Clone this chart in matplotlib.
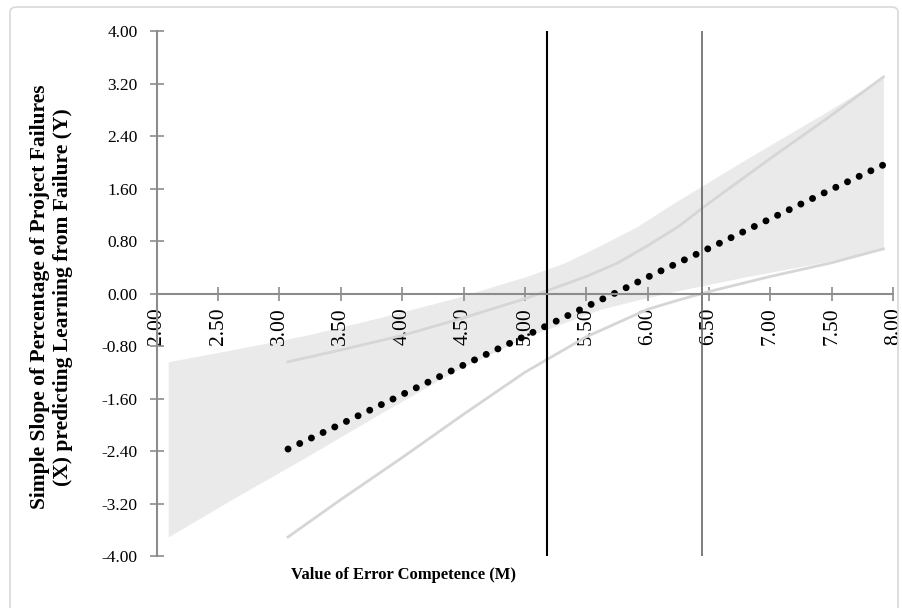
import matplotlib
matplotlib.use("Agg")
import matplotlib.pyplot as plt
from matplotlib.patches import FancyBboxPatch
import numpy as np

# moderator values (Error Competence) and the values
m_values = [3.07, 3.50, 4.00, 4.50, 5.00, 5.50, 5.75, 6.00, 6.25, 6.50, 7.00, 7.50, 7.92]
simple_slope = [-2.37, -1.99, -1.54, -1.09, -0.65, -0.20, 0.02, 0.25, 0.47, 0.69, 1.14, 1.59, 1.96]
ci_upper = [-1.04, -0.86, -0.64, -0.37, -0.08, 0.26, 0.46, 0.73, 1.02, 1.38, 2.06, 2.72, 3.30]
ci_lower = [-3.71, -3.14, -2.50, -1.84, -1.20, -0.66, -0.45, -0.24, -0.10, 0.03, 0.26, 0.47, 0.68]
jn_points = [5.18, 6.44]

x_ticks = np.arange(2.0, 8.01, 0.5)
y_ticks = np.arange(-4.0, 4.01, 0.8)

serif = ["Liberation Serif", "DejaVu Serif"]
axis_grey = "#8c8c8c"


def fmt(v):
    return "%.2f" % (0.0 if abs(v) < 1e-9 else v)


fig = plt.figure(figsize=(9.03, 6.08), dpi=100)

# chart area border
fig.patches.append(FancyBboxPatch((10 / 903, -0.05), 888 / 903, 1 - 7 / 608 + 0.05,
                                  boxstyle="round,pad=0,rounding_size=0.008",
                                  transform=fig.transFigure, fc="none",
                                  ec="#d9d9d9", lw=1.2))

rect = [0.1735, 0.0855, 0.8157, 0.8635]

# shaded band sits on its own (category-like) horizontal axis, as in the source
ax_band = fig.add_axes(rect)
ax_band.fill_between(m_values, ci_lower, ci_upper, color="#eaeaea", lw=0)
ax_band.set_xlim(2.992, 7.987)
ax_band.set_ylim(-4, 4)
ax_band.axis("off")

ax = fig.add_axes(rect)
ax.patch.set_visible(False)
ax.plot(m_values, ci_upper, color="#d6d6d6", lw=2.0)
ax.plot(m_values, ci_lower, color="#d6d6d6", lw=2.0)
ax.plot(m_values, simple_slope, color="black", lw=5.0,
        ls=(0, (0.01, 1.85)), dash_capstyle="round")
ax.axvline(jn_points[0], color="black", lw=1.5)
ax.axvline(jn_points[1], color="#595959", lw=1.1)

ax.set_xlim(2, 8)
ax.set_ylim(-4, 4)
ax.spines["top"].set_visible(False)
ax.spines["right"].set_visible(False)
ax.spines["bottom"].set_position(("data", 0))
for s in ("left", "bottom"):
    ax.spines[s].set_color(axis_grey)
    ax.spines[s].set_linewidth(1.5)

ax.set_xticks(x_ticks)
ax.set_xticklabels([fmt(v) for v in x_ticks], rotation=90,
                   fontsize=15.5, family=serif)
ax.set_yticks(y_ticks)
ax.set_yticklabels([fmt(v) for v in y_ticks], fontsize=12.5, family=serif)
ax.tick_params(axis="x", direction="inout", length=9.5, width=1.2,
               color=axis_grey, pad=5)
ax.tick_params(axis="y", direction="inout", length=9.5, width=1.2,
               color=axis_grey, pad=9)

fig.text(0.0570, 0.5115,
         "Simple Slope of Percentage of Project Failures\n(X) predicting Learning from Failure (Y)",
         rotation=90, ha="center", va="center", fontsize=15.5, fontweight="bold",
         family=serif, linespacing=1.15)
fig.text(0.447, 0.054, "Value of Error Competence (M)", ha="center", va="center",
         fontsize=12, fontweight="bold", family=serif)

plt.savefig("out.png", dpi=100)
